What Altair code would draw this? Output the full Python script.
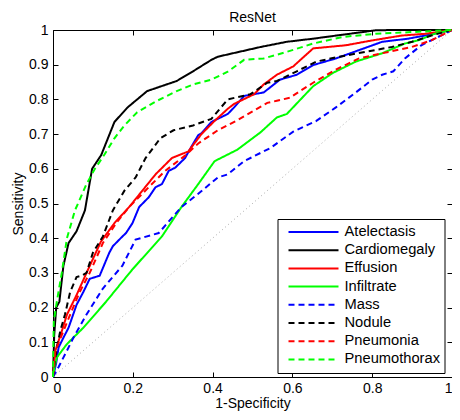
import altair as alt
import pandas as pd

FONT = "Liberation Sans"

series_names = ["Atelectasis", "Cardiomegaly", "Effusion", "Infiltrate",
                "Mass", "Nodule", "Pneumonia", "Pneumothorax"]
series_colors = ["#0000ff", "#000000", "#ff0000", "#00ff00",
                 "#0000ff", "#000000", "#ff0000", "#00ff00"]
series_dashes = [[1, 0], [1, 0], [1, 0], [1, 0],
                 [6, 4], [6, 4], [6, 4], [6, 4]]

atelectasis_x = [0, 0.008, 0.014, 0.026, 0.039, 0.059, 0.076, 0.092, 0.117, 0.141, 0.15, 0.174, 0.183, 0.199, 0.216, 0.24, 0.257, 0.273, 0.29, 0.306, 0.331, 0.347, 0.364, 0.372, 0.397, 0.413, 0.438, 0.454, 0.479, 0.528, 0.569, 0.611, 0.652, 0.709, 0.767, 0.825, 0.89, 0.932, 1]
atelectasis_y = [0, 0.04, 0.085, 0.113, 0.142, 0.208, 0.245, 0.283, 0.292, 0.358, 0.377, 0.405, 0.415, 0.443, 0.49, 0.518, 0.547, 0.556, 0.594, 0.603, 0.631, 0.664, 0.697, 0.702, 0.735, 0.744, 0.758, 0.777, 0.81, 0.82, 0.857, 0.871, 0.899, 0.918, 0.942, 0.966, 0.975, 0.984, 1]

cardiomegaly_x = [0, 0.003, 0.008, 0.016, 0.026, 0.039, 0.059, 0.08, 0.098, 0.121, 0.154, 0.187, 0.236, 0.31, 0.351, 0.397, 0.413, 0.52, 0.586, 0.652, 0.808, 0.85, 1]
cardiomegaly_y = [0, 0.12, 0.2, 0.217, 0.32, 0.386, 0.42, 0.48, 0.6, 0.64, 0.735, 0.777, 0.824, 0.853, 0.881, 0.914, 0.923, 0.951, 0.966, 0.975, 0.999, 1, 1]

effusion_x = [0, 0.004, 0.006, 0.022, 0.035, 0.059, 0.084, 0.12, 0.155, 0.191, 0.224, 0.257, 0.298, 0.339, 0.372, 0.405, 0.438, 0.454, 0.504, 0.528, 0.561, 0.602, 0.652, 0.734, 0.80, 0.874, 0.932, 1]
effusion_y = [0, 0.05, 0.076, 0.132, 0.18, 0.236, 0.30, 0.39, 0.445, 0.49, 0.537, 0.584, 0.631, 0.65, 0.7, 0.738, 0.773, 0.787, 0.815, 0.843, 0.871, 0.895, 0.947, 0.956, 0.970, 0.984, 0.989, 1]

infiltrate_x = [0, 0.004, 0.01, 0.035, 0.076, 0.133, 0.199, 0.273, 0.322, 0.364, 0.405, 0.462, 0.52, 0.561, 0.586, 0.652, 0.701, 0.759, 0.825, 0.882, 0.915, 0.956, 1]
infiltrate_y = [0, 0.03, 0.057, 0.095, 0.142, 0.217, 0.31, 0.405, 0.49, 0.556, 0.622, 0.655, 0.705, 0.748, 0.758, 0.838, 0.876, 0.909, 0.933, 0.961, 0.97, 0.989, 1]

mass_x = [0, 0.005, 0.014, 0.035, 0.051, 0.084, 0.125, 0.174, 0.207, 0.265, 0.322, 0.364, 0.413, 0.438, 0.479, 0.545, 0.602, 0.66, 0.709, 0.759, 0.80, 0.825, 0.853, 0.882, 0.923, 0.948, 1]
mass_y = [0, 0.01, 0.029, 0.076, 0.113, 0.18, 0.255, 0.321, 0.396, 0.415, 0.49, 0.528, 0.575, 0.584, 0.622, 0.66, 0.707, 0.738, 0.777, 0.82, 0.857, 0.871, 0.881, 0.918, 0.956, 0.97, 1]

nodule_x = [0, 0.004, 0.01, 0.018, 0.03, 0.043, 0.059, 0.072, 0.084, 0.1, 0.125, 0.15, 0.179, 0.207, 0.232, 0.269, 0.302, 0.351, 0.397, 0.438, 0.495, 0.537, 0.561, 0.611, 0.66, 0.718, 0.783, 0.849, 0.9, 0.948, 1]
nodule_y = [0, 0.04, 0.085, 0.132, 0.18, 0.245, 0.288, 0.292, 0.30, 0.358, 0.405, 0.48, 0.537, 0.575, 0.631, 0.688, 0.711, 0.725, 0.744, 0.80, 0.815, 0.848, 0.853, 0.881, 0.909, 0.923, 0.937, 0.951, 0.966, 0.984, 1]

pneumonia_x = [0, 0.003, 0.006, 0.026, 0.043, 0.067, 0.092, 0.125, 0.158, 0.191, 0.24, 0.281, 0.331, 0.364, 0.413, 0.462, 0.504, 0.537, 0.561, 0.594, 0.619, 0.652, 0.709, 0.767, 0.825, 0.899, 0.948, 1]
pneumonia_y = [0, 0.04, 0.076, 0.132, 0.18, 0.245, 0.30, 0.386, 0.443, 0.49, 0.547, 0.594, 0.638, 0.673, 0.711, 0.74, 0.768, 0.79, 0.796, 0.805, 0.824, 0.848, 0.886, 0.918, 0.933, 0.951, 0.97, 1]

pneumothorax_x = [0, 0.001, 0.002, 0.01, 0.022, 0.035, 0.055, 0.084, 0.105, 0.129, 0.154, 0.179, 0.211, 0.261, 0.31, 0.351, 0.397, 0.438, 0.479, 0.528, 0.586, 0.652, 0.726, 0.808, 0.9, 1]
pneumothorax_y = [0, 0.1, 0.16, 0.22, 0.30, 0.40, 0.48, 0.556, 0.6, 0.641, 0.688, 0.725, 0.763, 0.796, 0.824, 0.843, 0.857, 0.88, 0.914, 0.918, 0.937, 0.961, 0.98, 0.989, 0.994, 1]

curves = {
    "Atelectasis": (atelectasis_x, atelectasis_y),
    "Cardiomegaly": (cardiomegaly_x, cardiomegaly_y),
    "Effusion": (effusion_x, effusion_y),
    "Infiltrate": (infiltrate_x, infiltrate_y),
    "Mass": (mass_x, mass_y),
    "Nodule": (nodule_x, nodule_y),
    "Pneumonia": (pneumonia_x, pneumonia_y),
    "Pneumothorax": (pneumothorax_x, pneumothorax_y),
}

diag_x = [0, 1]
diag_y = [0, 1]

x_ticks = [0, 0.2, 0.4, 0.6, 0.8, 1]
y_ticks = [0, 0.1, 0.2, 0.3, 0.4, 0.5, 0.6, 0.7, 0.8, 0.9, 1]

rows = []
for name in series_names:
    xs, ys = curves[name]
    for i, (xv, yv) in enumerate(zip(xs, ys)):
        rows.append({"series": name, "i": i, "x": xv, "y": yv})
df = pd.DataFrame(rows)
diag_df = pd.DataFrame({"x": diag_x, "y": diag_y})

xscale = alt.Scale(domain=[0, 1], nice=False, zero=False)
yscale = alt.Scale(domain=[0, 1], nice=False, zero=False)

legend_kw = dict(
    title=None, orient="none", legendX=224.5, legendY=189,
    symbolType="stroke", symbolSize=2500, symbolStrokeWidth=2,
    clipHeight=18, rowPadding=0.2, padding=4, symbolOffset=6,
    labelOffset=5, labelFontSize=14.7, labelFont=FONT, labelColor="black",
    strokeColor="black", fillColor="white", labelLimit=200,
)

diag = alt.Chart(diag_df).mark_line(
    color="#aaaaaa", strokeDash=[1, 3], strokeWidth=1
).encode(
    x=alt.X("x:Q", scale=xscale,
            axis=alt.Axis(orient="top", values=x_ticks, labels=False, title=None,
                          domain=False, ticks=True, tickSize=5, offset=-5,
                          tickColor="black", grid=False)),
    y=alt.Y("y:Q", scale=yscale,
            axis=alt.Axis(orient="right", values=y_ticks, labels=False, title=None,
                          domain=False, ticks=True, tickSize=5, offset=-5,
                          tickColor="black", grid=False)),
)

lines = alt.Chart(df).mark_line(strokeWidth=2).encode(
    x=alt.X("x:Q", scale=xscale,
            axis=alt.Axis(orient="bottom", values=x_ticks, format=".1~f",
                          title="1-Specificity", domain=False, tickSize=5,
                          offset=-5, tickColor="black", grid=False,
                          labelPadding=4, titlePadding=1)),
    y=alt.Y("y:Q", scale=yscale,
            axis=alt.Axis(orient="left", values=y_ticks, format=".1~f",
                          title="Sensitivity", domain=False, tickSize=5,
                          offset=-5, tickColor="black", grid=False,
                          labelPadding=5, titlePadding=3)),
    color=alt.Color("series:N", scale=alt.Scale(domain=series_names, range=series_colors),
                    legend=alt.Legend(**legend_kw)),
    strokeDash=alt.StrokeDash("series:N", scale=alt.Scale(domain=series_names, range=series_dashes),
                              legend=alt.Legend(**legend_kw)),
    order=alt.Order("i:Q"),
)

chart = alt.layer(diag, lines).resolve_axis(
    x="independent", y="independent"
).properties(
    width=399, height=347,
    title=alt.TitleParams("ResNet", fontSize=14, fontWeight="normal", font=FONT,
                          color="black", offset=5, dy=7, anchor="middle"),
    autosize=alt.AutoSizeParams(type="none"),
    padding={"left": 45, "top": 22, "right": 0, "bottom": 35},
).configure_view(
    stroke="black", strokeWidth=1
).configure_axis(
    labelFont=FONT, labelFontSize=14, labelColor="black",
    titleFont=FONT, titleFontSize=14, titleFontWeight="normal", titleColor="black",
)

chart.save("out.html", embed_options={"renderer": "svg", "actions": False})
